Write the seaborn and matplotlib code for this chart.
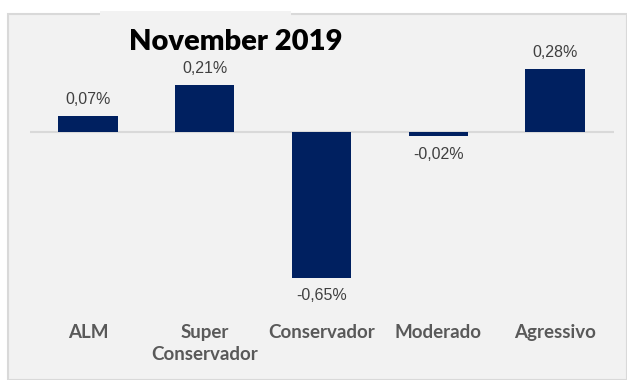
import matplotlib
matplotlib.use("Agg")
import matplotlib.pyplot as plt
from matplotlib.patches import Rectangle
import seaborn as sns
import pandas as pd

categories = ["ALM", "Super\nConservador", "Conservador", "Moderado", "Agressivo"]
values = [0.07, 0.21, -0.65, -0.02, 0.28]
value_labels = ["0,07%", "0,21%", "-0,65%", "-0,02%", "0,28%"]
title = "November 2019"

df = pd.DataFrame({"cat": categories, "val": values})

sns.set_theme(style="white")
plt.rcParams["font.family"] = ["Liberation Sans", "DejaVu Sans"]

W, H = 627, 380
fig = plt.figure(figsize=(W / 100, H / 100), dpi=100, facecolor="white")

# panel background
fig.patches.append(Rectangle((8 / W, 0), (W - 8) / W, (H - 14) / H,
                             transform=fig.transFigure, facecolor="#f2f2f2",
                             edgecolor="#d9d9d9", linewidth=1.5, zorder=-2))
# title box
fig.patches.append(Rectangle((100 / W, (H - 40) / H), 191 / W, 29 / H,
                             transform=fig.transFigure, facecolor="#f2f2f2",
                             edgecolor="none", linewidth=0, zorder=-1))

zero_y = 132
ppu = 224.0
ax_top, ax_bot = 15, 318
ax = fig.add_axes([29.5 / W, (H - ax_bot) / H, 584 / W, (ax_bot - ax_top) / H])
ax.set_facecolor("none")
ax.set_zorder(1)

sns.barplot(data=df, x="cat", y="val", color="#002060", width=0.51,
            saturation=1, linewidth=0, ax=ax, zorder=3)
ax.set_xlim(-0.5, 4.5)
ax.set_ylim(-(ax_bot - zero_y) / ppu, (zero_y - ax_top) / ppu)
ax.axhline(0, color="#d9d9d9", linewidth=1.5, zorder=2)

for i, (v, lab) in enumerate(zip(values, value_labels)):
    if v >= 0:
        ax.annotate(lab, (i, v), xytext=(0, 6.5), textcoords="offset points",
                    ha="center", va="bottom", fontsize=11.5, color="#404040")
    else:
        ax.annotate(lab, (i, v), xytext=(0, -7.5), textcoords="offset points",
                    ha="center", va="top", fontsize=11.5, color="#404040")

ax.set_xlabel("")
ax.set_ylabel("")
ax.set_yticks([])
ax.set_xticks(range(len(categories)))
ax.set_xticklabels(categories, fontsize=13.5, fontweight="bold", color="#595959",
                   family=["Lato", "DejaVu Sans"], linespacing=1.4)
ax.tick_params(axis="x", length=0, pad=4)
for s in ax.spines.values():
    s.set_visible(False)

fig.text(236 / W, 1 - 42 / H, title, ha="center", va="center", fontsize=21,
         fontweight="heavy", color="black", family=["Lato", "DejaVu Sans"],
         zorder=5)

fig.savefig("out.png", dpi=100, facecolor="white")
